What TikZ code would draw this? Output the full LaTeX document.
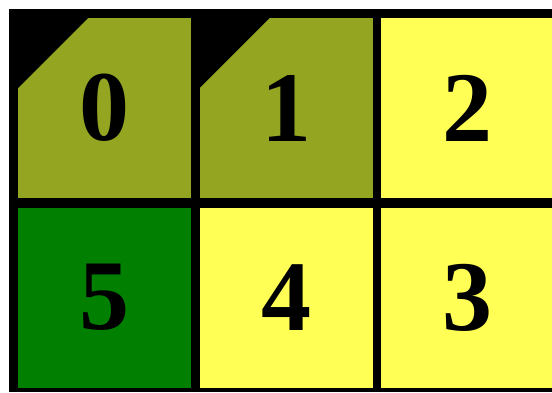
\documentclass[tikz,border=0pt]{standalone}
\usepackage{fontspec}
\setmainfont{Liberation Serif}
\usepackage{tikz}
\usepackage{xcolor}
\usetikzlibrary{positioning}
\definecolor{ink}     {HTML}{000000}
\definecolor{olive}   {HTML}{94A521}
\definecolor{lemon}   {HTML}{FFFF55}
\definecolor{leaf}    {HTML}{007F00}
\tikzset{
  cellbox/.style ={minimum width=173pt, minimum height=180pt,
                   inner sep=0pt, outer sep=0pt, text=ink,
                   font=\fontsize{100}{100}\selectfont\bfseries},
  donebox/.style ={cellbox, fill=olive},
  openbox/.style ={cellbox, fill=lemon},
  headbox/.style ={cellbox, fill=leaf},
  notch/.style   ={fill=ink},
}

\begin{document}
\begin{tikzpicture}[x=1pt,y=1pt]
    \useasboundingbox (0,0) rectangle (552,392);
    \clip (0,0) rectangle (552,392);
    \fill[white] (0,0) rectangle (552,392);
    \fill[ink] (9,0) rectangle (560,383);
    % top row
    \node[donebox] (c0) at (104.5,284) {0};
    \node[donebox] (c1) at (286,284)   {1};
    \node[openbox] (c2) at (467.5,284) {2};
    % bottom row
    \node[headbox] (c5) at (104.5,94.5) {5};
    \node[openbox] (c4) at (286,94.5)   {4};
    \node[openbox] (c3) at (467.5,94.5) {3};
    % cut corners
    \fill[notch] (c0.north west) -- ++(70,0) -- ++(-70,-70) -- cycle;
    \fill[notch] (c1.north west) -- ++(70,0) -- ++(-70,-70) -- cycle;
  \end{tikzpicture}
\end{document}
